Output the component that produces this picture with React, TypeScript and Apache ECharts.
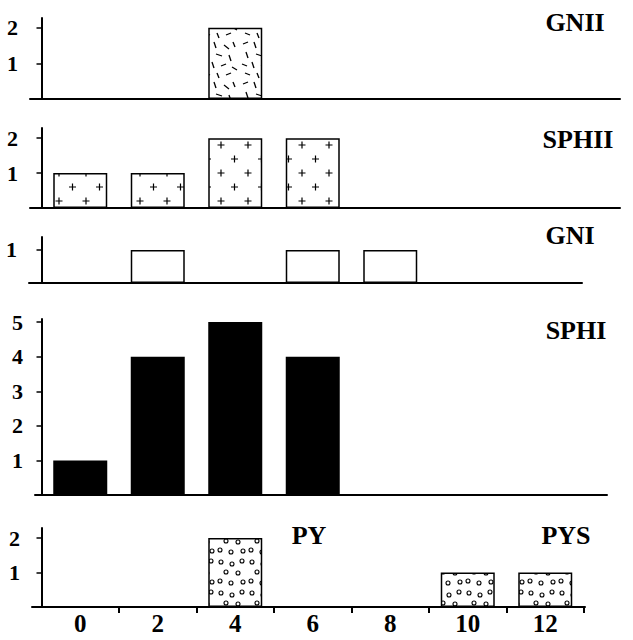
import React, { useEffect, useRef } from "react";
import * as echarts from "echarts";

// ---- data ----
const categories = ["0", "2", "4", "6", "8", "10", "12"];
const gniiValues = [0, 0, 2, 0, 0, 0, 0];
const sphiiValues = [1, 1, 2, 2, 0, 0, 0];
const gniValues = [0, 1, 0, 1, 1, 0, 0];
const sphiValues = [1, 4, 5, 4, 0, 0, 0];
const pyValues = [0, 0, 2, 0, 0, 0, 0];
const pysValues = [0, 0, 0, 0, 0, 1, 1];
const yTicksTwo = [1, 2];
const yTicksOne = [1];
const yTicksFive = [1, 2, 3, 4, 5];

const SERIF = "'Liberation Serif', 'Times New Roman', serif";

function makeCanvas(w: number, h: number, draw: (c: CanvasRenderingContext2D) => void) {
  const cv = document.createElement("canvas");
  cv.width = w;
  cv.height = h;
  const ctx = cv.getContext("2d")!;
  ctx.fillStyle = "#fff";
  ctx.fillRect(0, 0, w, h);
  ctx.strokeStyle = "#000";
  ctx.fillStyle = "#000";
  draw(ctx);
  return { image: cv, repeat: "repeat", imageWidth: w, imageHeight: h };
}

function dashPattern() {
  const segs = [
    [3, 4, 8, 2],
    [14, 2, 16, 8],
    [24, 5, 29, 9],
    [33, 2, 35, 7],
    [6, 12, 8, 18],
    [16, 14, 22, 16],
    [29, 15, 31, 21],
    [2, 24, 7, 26],
    [12, 22, 14, 28],
    [21, 26, 26, 24],
    [32, 27, 37, 30],
    [5, 33, 10, 35],
    [17, 33, 19, 38],
    [26, 35, 31, 33],
  ];
  return makeCanvas(40, 40, (c) => {
    c.lineWidth = 1.3;
    segs.forEach(([a, b, d, e]) => {
      c.beginPath();
      c.moveTo(a, b);
      c.lineTo(d, e);
      c.stroke();
    });
  });
}

function plusPattern() {
  return makeCanvas(27, 28, (c) => {
    c.lineWidth = 1.2;
    const plus = (x: number, y: number) => {
      c.beginPath();
      c.moveTo(x - 3.5, y);
      c.lineTo(x + 3.5, y);
      c.moveTo(x, y - 3.5);
      c.lineTo(x, y + 3.5);
      c.stroke();
    };
    plus(5, 5);
    plus(18.5, 19);
  });
}

function circlePattern() {
  const pts = [
    [4, 4],
    [15, 6],
    [25, 3],
    [9, 14],
    [21, 15],
    [3, 23],
    [14, 25],
    [26, 24],
  ];
  return makeCanvas(31, 31, (c) => {
    c.lineWidth = 1.1;
    pts.forEach(([x, y]) => {
      c.beginPath();
      c.arc(x, y, 2, 0, Math.PI * 2);
      c.stroke();
    });
  });
}

const AXIS_X = 41.5; // pixel of the y-axis
const UNIT = 77.5; // pixel width of one category

export default function App() {
  const ref = useRef<HTMLDivElement>(null);
  useEffect(() => {
    if (!ref.current) return;
    const chart = echarts.init(ref.current, undefined, { renderer: "svg" });

    const panels = [
      { values: [gniiValues], fill: dashPattern(), top: 18, base: 99, max: 2.27, ticks: yTicksTwo, start: 30, end: 620 },
      { values: [sphiiValues], fill: plusPattern(), top: 128, base: 208, max: 2.29, ticks: yTicksTwo, start: 30, end: 620 },
      { values: [gniValues], fill: "#fff", top: 237, base: 283, max: 1.39, ticks: yTicksOne, start: 29, end: 582 },
      { values: [sphiValues], fill: "#000", top: 319, base: 495, max: 5.09, ticks: yTicksFive, start: 35, end: 607 },
      { values: [pyValues, pysValues], fill: circlePattern(), top: 528, base: 607, max: 2.29, ticks: yTicksTwo, start: 32, end: 585, bottom: true },
    ];

    const grid: any[] = [];
    const xAxis: any[] = [];
    const yAxis: any[] = [];
    const series: any[] = [];

    panels.forEach((p: any, k) => {
      grid.push({
        left: p.start,
        width: p.end - p.start,
        top: p.top,
        height: p.base - p.top,
        containLabel: false,
        outerBoundsMode: "none",
      });
      xAxis.push({
        gridIndex: k,
        type: "value",
        min: (p.start - AXIS_X) / UNIT,
        max: (p.end - AXIS_X) / UNIT,
        axisLine: { show: true, onZero: true, lineStyle: { color: "#000", width: 2 } },
        axisTick: {
          show: !!p.bottom,
          customValues: categories.map((_, i) => i + 1),
          length: 6,
          lineStyle: { color: "#000", width: 2 },
        },
        axisLabel: {
          show: !!p.bottom,
          customValues: categories.map((_, i) => i + 0.5),
          formatter: (v: number) => categories[Math.round(v - 0.5)] ?? "",
          color: "#000",
          fontFamily: SERIF,
          fontWeight: "bold",
          fontSize: 25,
          margin: 4,
        },
        splitLine: { show: false },
      });
      yAxis.push({
        gridIndex: k,
        type: "value",
        min: 0,
        max: p.max,
        axisLine: { show: true, onZero: true, lineStyle: { color: "#000", width: 2 } },
        axisTick: { show: true, customValues: p.ticks, length: 5, lineStyle: { color: "#000", width: 1.5 } },
        axisLabel: {
          customValues: p.ticks,
          color: "#000",
          fontFamily: SERIF,
          fontWeight: "bold",
          fontSize: 22,
          margin: 12,
        },
        splitLine: { show: false },
      });
      p.values.forEach((vals: number[]) => {
        series.push({
          type: "bar",
          xAxisIndex: k,
          yAxisIndex: k,
          stack: "p" + k,
          barWidth: 54,
          data: vals
            .map((v, i) => [i + 0.5, v])
            .filter((d) => d[1] > 0),
          itemStyle: { color: p.fill, borderColor: "#000", borderWidth: 1.5 },
          silent: true,
        });
      });
    });

    const titles = [
      { text: "GNII", x: 575, y: 22 },
      { text: "SPHII", x: 578, y: 139 },
      { text: "GNI", x: 570, y: 235 },
      { text: "SPHI", x: 576, y: 330 },
      { text: "PY", x: 309, y: 535 },
      { text: "PYS", x: 566, y: 535 },
    ];

    chart.setOption({
      animation: false,
      backgroundColor: "#fff",
      grid,
      xAxis,
      yAxis,
      series,
      graphic: titles.map((t) => ({
        type: "text",
        x: t.x,
        y: t.y,
        style: {
          text: t.text,
          fill: "#000",
          font: `bold 26px ${SERIF}`,
          textAlign: "center",
          textVerticalAlign: "middle",
        },
      })),
    });
    return () => chart.dispose();
  }, []);

  return (
    <div
      ref={ref}
      style={{ position: "fixed", left: 0, top: 0, width: 633, height: 640, background: "#fff" }}
    />
  );
}
